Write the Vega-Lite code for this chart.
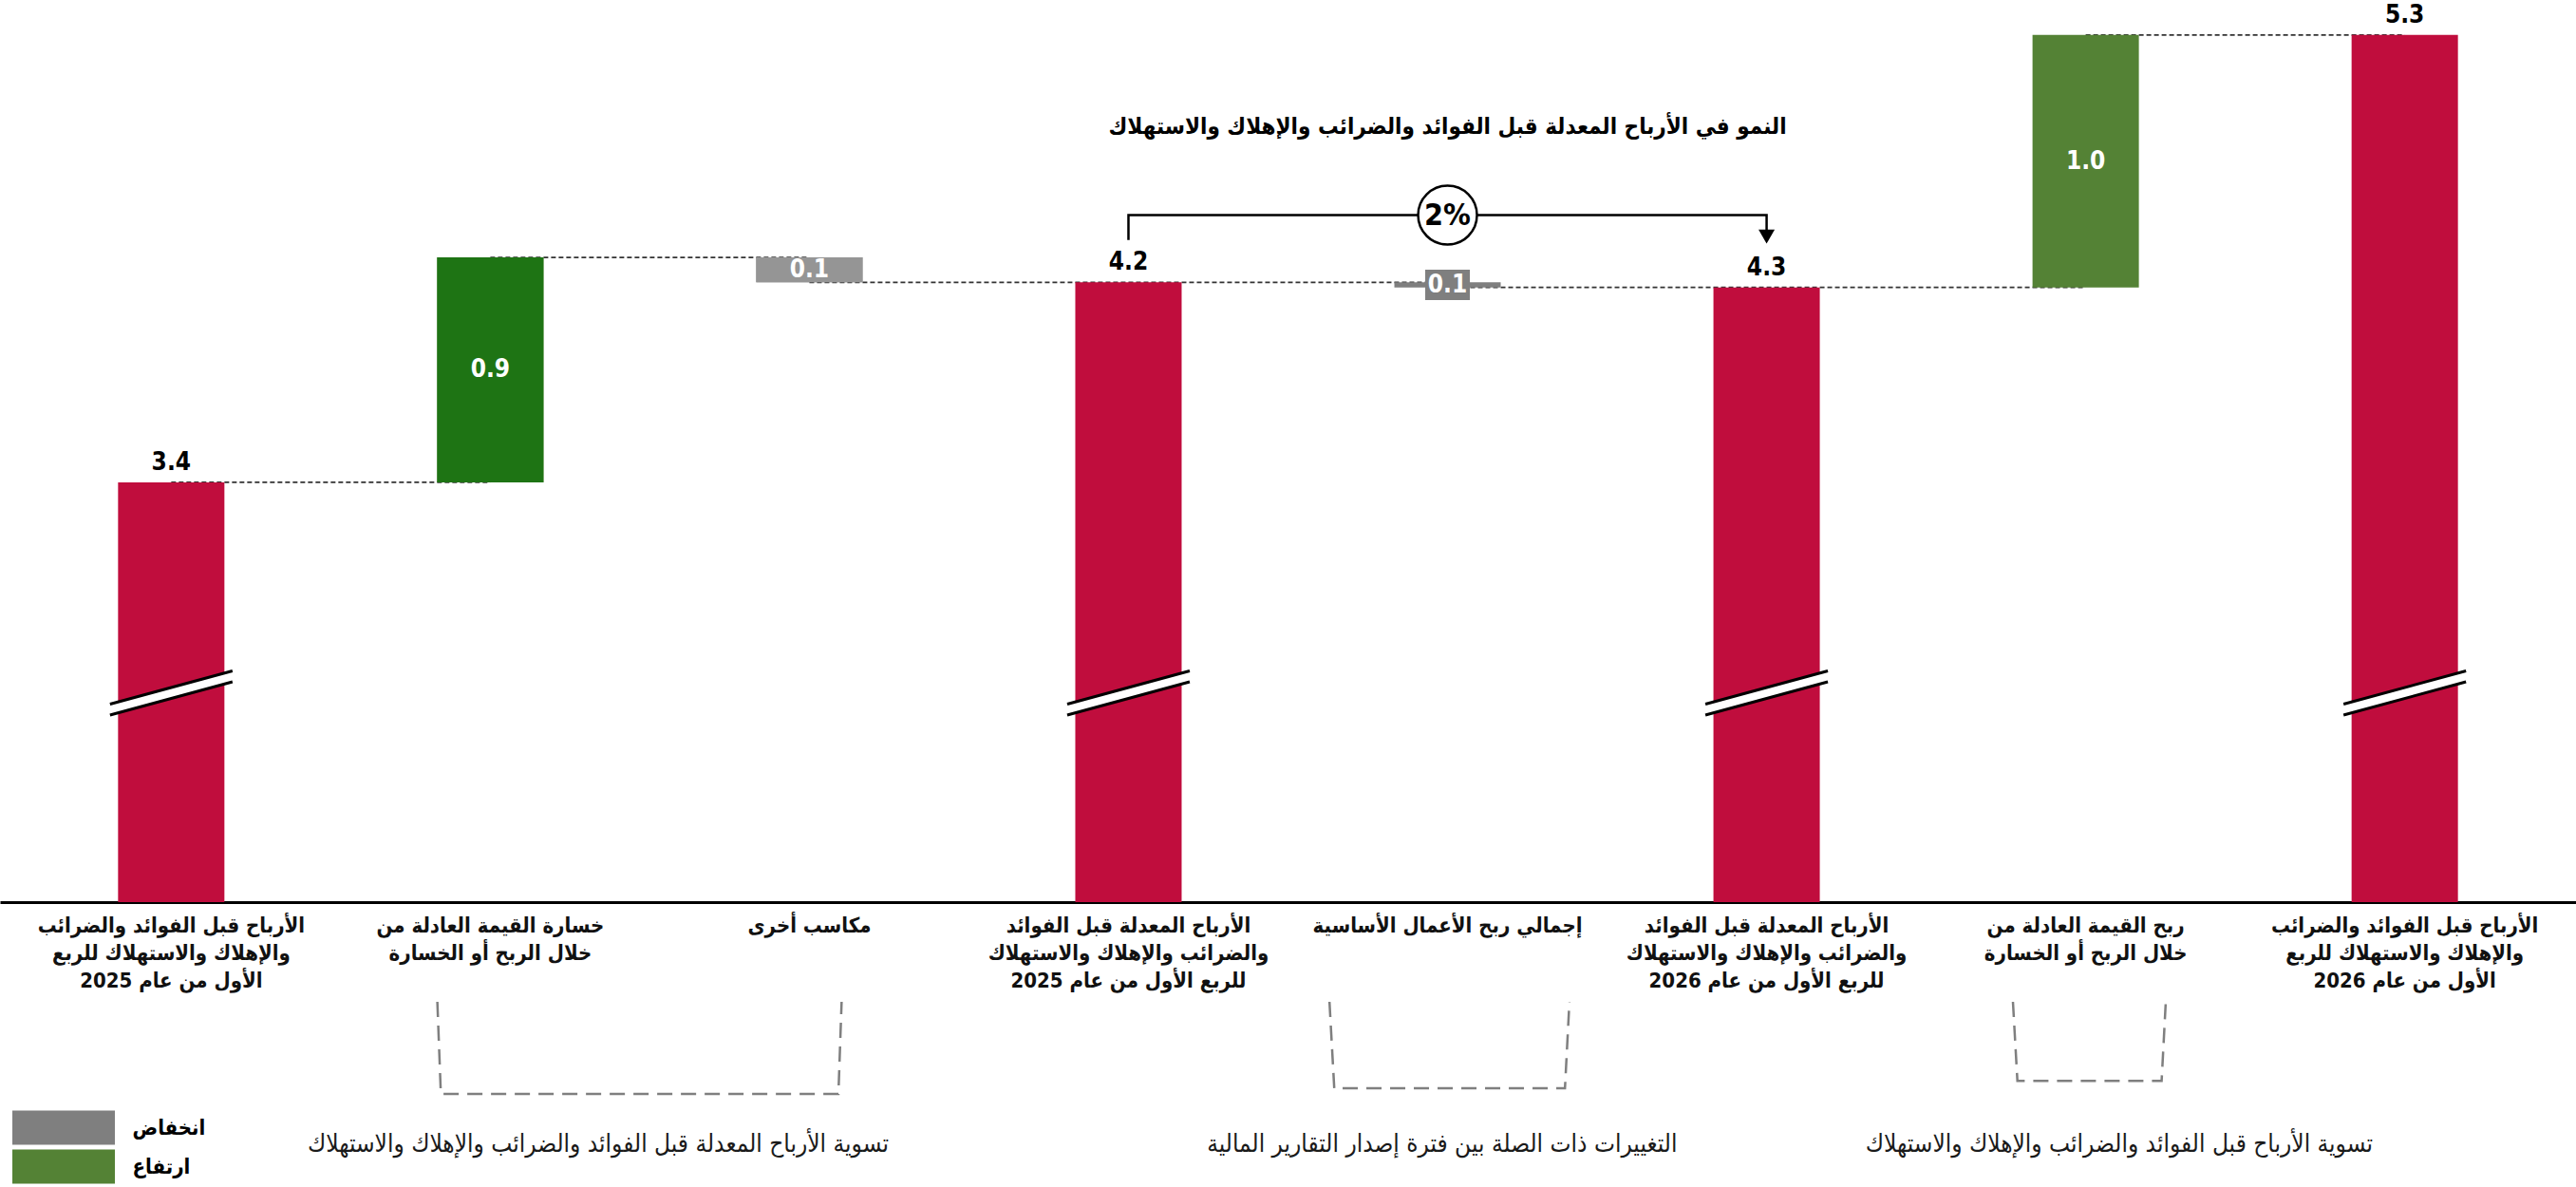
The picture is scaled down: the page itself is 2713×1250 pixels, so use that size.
{
  "$schema": "https://vega.github.io/schema/vega-lite/v6.json",
  "width": 2713,
  "height": 950,
  "padding": 0,
  "background": "#ffffff",
  "config": {"view": {"stroke": null}},
  "datasets": {
    "bars": [
      {"step": 1, "cat": "الأرباح قبل الفوائد والضرائب|والإهلاك والاستهلاك  للربع|الأول من عام 2025", "type": "الإجمالي", "start": 0, "end": 3.40, "label": "3.4", "next": "خسارة القيمة العادلة من|خلال الربح أو الخسارة"},
      {"step": 2, "cat": "خسارة القيمة العادلة من|خلال الربح أو الخسارة", "type": "ارتفاع", "start": 3.40, "end": 4.30, "label": "0.9", "next": "مكاسب أخرى"},
      {"step": 3, "cat": "مكاسب أخرى", "type": "انخفاض", "start": 4.30, "end": 4.20, "label": "0.1", "next": "الأرباح المعدلة قبل الفوائد|والضرائب والإهلاك والاستهلاك|للربع الأول من عام 2025"},
      {"step": 4, "cat": "الأرباح المعدلة قبل الفوائد|والضرائب والإهلاك والاستهلاك|للربع الأول من عام 2025", "type": "الإجمالي", "start": 0, "end": 4.20, "label": "4.2", "next": "إجمالي ربح الأعمال الأساسية"},
      {"step": 5, "cat": "إجمالي ربح الأعمال الأساسية", "type": "انخفاض", "start": 4.20, "end": 4.18, "label": "0.1", "next": "الأرباح المعدلة قبل الفوائد|والضرائب والإهلاك والاستهلاك|للربع الأول من عام 2026"},
      {"step": 6, "cat": "الأرباح المعدلة قبل الفوائد|والضرائب والإهلاك والاستهلاك|للربع الأول من عام 2026", "type": "الإجمالي", "start": 0, "end": 4.18, "label": "4.3", "next": "ربح القيمة العادلة من|خلال الربح أو الخسارة"},
      {"step": 7, "cat": "ربح القيمة العادلة من|خلال الربح أو الخسارة", "type": "ارتفاع", "start": 4.18, "end": 5.19, "label": "1.0", "next": "الأرباح قبل الفوائد والضرائب|والإهلاك والاستهلاك  للربع|الأول من عام 2026"},
      {"step": 8, "cat": "الأرباح قبل الفوائد والضرائب|والإهلاك والاستهلاك  للربع|الأول من عام 2026", "type": "الإجمالي", "start": 0, "end": 5.19, "label": "5.3", "next": null}
    ],
    "link": [
      {"cat": "الأرباح المعدلة قبل الفوائد|والضرائب والإهلاك والاستهلاك|للربع الأول من عام 2025", "v": 4.37, "o": 1},
      {"cat": "الأرباح المعدلة قبل الفوائد|والضرائب والإهلاك والاستهلاك|للربع الأول من عام 2025", "v": 4.469, "o": 2},
      {"cat": "الأرباح المعدلة قبل الفوائد|والضرائب والإهلاك والاستهلاك|للربع الأول من عام 2026", "v": 4.469, "o": 3},
      {"cat": "الأرباح المعدلة قبل الفوائد|والضرائب والإهلاك والاستهلاك|للربع الأول من عام 2026", "v": 4.405, "o": 4}
    ],
    "brackets": [
      {"g": 1, "o": 1, "u": 0.834, "v": 1.321},
      {"g": 1, "o": 2, "u": 0.845, "v": 0.952},
      {"g": 1, "o": 3, "u": 2.091, "v": 0.952},
      {"g": 1, "o": 4, "u": 2.101, "v": 1.321},
      {"g": 2, "o": 1, "u": 3.630, "v": 1.321},
      {"g": 2, "o": 2, "u": 3.645, "v": 0.975},
      {"g": 2, "o": 3, "u": 4.368, "v": 0.975},
      {"g": 2, "o": 4, "u": 4.382, "v": 1.321},
      {"g": 3, "o": 1, "u": 5.772, "v": 1.321},
      {"g": 3, "o": 2, "u": 5.786, "v": 1.005},
      {"g": 3, "o": 3, "u": 6.238, "v": 1.005},
      {"g": 3, "o": 4, "u": 6.251, "v": 1.321}
    ],
    "groups": [
      {"u": 1.338, "v": 0.75, "text": "تسوية الأرباح المعدلة قبل الفوائد والضرائب والإهلاك والاستهلاك"},
      {"u": 3.983, "v": 0.75, "text": "التغييرات ذات الصلة بين فترة إصدار التقارير المالية"},
      {"u": 6.105, "v": 0.75, "text": "تسوية الأرباح قبل الفوائد والضرائب والإهلاك والاستهلاك"}
    ]
  },
  "layer": [
    {
      "encoding": {
        "x": {
          "field": "cat", "type": "nominal", "sort": null,
          "scale": {
            "domain": [
              "الأرباح قبل الفوائد والضرائب|والإهلاك والاستهلاك  للربع|الأول من عام 2025",
              "خسارة القيمة العادلة من|خلال الربح أو الخسارة",
              "مكاسب أخرى",
              "الأرباح المعدلة قبل الفوائد|والضرائب والإهلاك والاستهلاك|للربع الأول من عام 2025",
              "إجمالي ربح الأعمال الأساسية",
              "الأرباح المعدلة قبل الفوائد|والضرائب والإهلاك والاستهلاك|للربع الأول من عام 2026",
              "ربح القيمة العادلة من|خلال الربح أو الخسارة",
              "الأرباح قبل الفوائد والضرائب|والإهلاك والاستهلاك  للربع|الأول من عام 2026"
            ],
            "paddingInner": 0.6667, "paddingOuter": 0.37
          },
          "axis": {
            "title": null, "labelExpr": "split(datum.label, '|')", "labelAngle": 0,
            "ticks": false, "domainColor": "#000000", "domainWidth": 3,
            "labelFont": "DejaVu Sans Condensed", "labelFontSize": 22, "labelFontWeight": "bold",
            "labelColor": "#111111", "labelLineHeight": 29, "labelPadding": 14,
            "labelLimit": 1000, "labelOverlap": false, "labelBound": false, "grid": false
          }
        }
      },
      "layer": [
        {
          "data": {"name": "bars"},
          "transform": [{"filter": "datum.next != null"}],
          "mark": {"type": "rule", "color": "#333333", "strokeWidth": 1.8, "strokeDash": [5, 3]},
          "encoding": {
            "x2": {"field": "next"},
            "y": {"field": "end", "type": "quantitative", "scale": {"domain": [1.72, 5.33], "nice": false, "zero": false, "clamp": true}, "axis": null}
          }
        },
        {
          "data": {"name": "bars"},
          "mark": {"type": "bar"},
          "encoding": {
            "y": {"field": "end", "type": "quantitative", "scale": {"domain": [1.72, 5.33], "nice": false, "zero": false, "clamp": true}, "axis": null},
            "y2": {"field": "start"},
            "color": {
              "field": "type", "type": "nominal",
              "scale": {"domain": ["انخفاض", "ارتفاع", "الإجمالي"], "range": ["#7f7f7f", "#548235", "#c00d3d"]},
              "legend": {
                "title": null, "orient": "none", "legendX": 44.5, "legendY": 1165,
                "values": ["انخفاض", "ارتفاع"],
                "symbolType": "M-2.4,-0.8H2.4V0.8H-2.4Z", "symbolSize": 2025, "symbolStrokeWidth": 0,
                "labelFont": "DejaVu Sans Condensed", "labelFontSize": 22, "labelFontWeight": "bold",
                "labelColor": "#000000", "labelOffset": 50, "rowPadding": 0, "padding": 0
              }
            }
          }
        },
        {
          "data": {"name": "bars"},
          "transform": [{"filter": "datum.step == 2"}],
          "mark": {"type": "bar", "color": "#1e7414"},
          "encoding": {
            "y": {"field": "end", "type": "quantitative", "scale": {"domain": [1.72, 5.33], "nice": false, "zero": false, "clamp": true}},
            "y2": {"field": "start"}
          }
        },
        {
          "data": {"name": "bars"},
          "transform": [{"filter": "datum.step == 3"}],
          "mark": {"type": "bar", "color": "#959595"},
          "encoding": {
            "y": {"field": "end", "type": "quantitative", "scale": {"domain": [1.72, 5.33], "nice": false, "zero": false, "clamp": true}},
            "y2": {"field": "start"}
          }
        },
        {
          "data": {"name": "bars"},
          "transform": [{"filter": "datum.start == 0"}],
          "mark": {"type": "point", "shape": "M-1,0.182L1,-0.36L1,-0.182L-1,0.36Z", "size": 16641, "filled": true, "fill": "#ffffff", "strokeWidth": 0, "opacity": 1},
          "encoding": {
            "y": {"datum": 2.557, "type": "quantitative", "scale": {"domain": [1.72, 5.33], "nice": false, "zero": false, "clamp": true}}
          }
        },
        {
          "data": {"name": "bars"},
          "transform": [{"filter": "datum.start == 0"}],
          "mark": {"type": "point", "shape": "M-1,0.182L1,-0.36M-1,0.36L1,-0.182", "size": 16641, "filled": false, "stroke": "#000000", "strokeWidth": 3, "opacity": 1},
          "encoding": {
            "y": {"datum": 2.557, "type": "quantitative", "scale": {"domain": [1.72, 5.33], "nice": false, "zero": false, "clamp": true}}
          }
        },
        {
          "data": {"name": "bars"},
          "transform": [{"filter": "datum.start == 0"}],
          "mark": {"type": "text", "baseline": "alphabetic", "align": "center", "dy": -13, "font": "Liberation Sans Narrow, DejaVu Sans Condensed, sans-serif", "fontSize": 26, "fontWeight": "bold", "color": "#000000"},
          "encoding": {
            "y": {"field": "end", "type": "quantitative", "scale": {"domain": [1.72, 5.33], "nice": false, "zero": false, "clamp": true}},
            "text": {"field": "label"}
          }
        },
        {
          "data": {"name": "bars"},
          "transform": [{"filter": "datum.step == 5"}, {"fold": ["start", "end"], "as": ["k", "val"]}],
          "mark": {"type": "point", "shape": "M-1.47,-1H1.47V1H-1.47Z", "size": 1024, "filled": true, "fill": "#7f7f7f", "strokeWidth": 0, "opacity": 1},
          "encoding": {
            "y": {"aggregate": "mean", "field": "val", "type": "quantitative", "scale": {"domain": [1.72, 5.33], "nice": false, "zero": false, "clamp": true}}
          }
        },
        {
          "data": {"name": "bars"},
          "transform": [{"filter": "datum.start > 0"}, {"fold": ["start", "end"], "as": ["k", "val"]}],
          "mark": {"type": "text", "baseline": "middle", "align": "center", "font": "Liberation Sans Narrow, DejaVu Sans Condensed, sans-serif", "fontSize": 26, "fontWeight": "bold", "color": "#ffffff"},
          "encoding": {
            "y": {"aggregate": "mean", "field": "val", "type": "quantitative", "scale": {"domain": [1.72, 5.33], "nice": false, "zero": false, "clamp": true}},
            "text": {"field": "label"}
          }
        },
        {
          "data": {"name": "link"},
          "mark": {"type": "line", "color": "#000000", "strokeWidth": 2.5},
          "encoding": {
            "y": {"field": "v", "type": "quantitative", "scale": {"domain": [1.72, 5.33], "nice": false, "zero": false, "clamp": true}},
            "order": {"field": "o"}
          }
        },
        {
          "data": {"values": [{}]},
          "mark": {"type": "point", "shape": "triangle-down", "size": 289, "filled": true, "color": "#000000", "opacity": 1},
          "encoding": {
            "x": {"datum": "الأرباح المعدلة قبل الفوائد|والضرائب والإهلاك والاستهلاك|للربع الأول من عام 2026", "type": "nominal"},
            "y": {"datum": 4.383, "type": "quantitative", "scale": {"domain": [1.72, 5.33], "nice": false, "zero": false, "clamp": true}}
          }
        },
        {
          "data": {"values": [{}]},
          "mark": {"type": "point", "shape": "circle", "size": 3844, "fill": "#ffffff", "stroke": "#000000", "strokeWidth": 2.5, "opacity": 1},
          "encoding": {
            "x": {"datum": "إجمالي ربح الأعمال الأساسية", "type": "nominal"},
            "y": {"datum": 4.469, "type": "quantitative", "scale": {"domain": [1.72, 5.33], "nice": false, "zero": false, "clamp": true}}
          }
        },
        {
          "data": {"values": [{"t": "2%"}]},
          "mark": {"type": "text", "baseline": "middle", "align": "center", "font": "Liberation Sans Narrow, DejaVu Sans Condensed, sans-serif", "fontSize": 32, "fontWeight": "bold", "color": "#000000"},
          "encoding": {
            "x": {"datum": "إجمالي ربح الأعمال الأساسية", "type": "nominal"},
            "y": {"datum": 4.469, "type": "quantitative", "scale": {"domain": [1.72, 5.33], "nice": false, "zero": false, "clamp": true}},
            "text": {"field": "t"}
          }
        },
        {
          "data": {"values": [{"t": "النمو في الأرباح المعدلة قبل الفوائد والضرائب والإهلاك والاستهلاك"}]},
          "mark": {"type": "text", "baseline": "middle", "align": "center", "font": "DejaVu Sans Condensed", "fontSize": 24, "fontWeight": "bold", "color": "#000000"},
          "encoding": {
            "x": {"datum": "إجمالي ربح الأعمال الأساسية", "type": "nominal"},
            "y": {"datum": 4.819, "type": "quantitative", "scale": {"domain": [1.72, 5.33], "nice": false, "zero": false, "clamp": true}},
            "text": {"field": "t"}
          }
        }
      ]
    },
    {
      "layer": [
        {
          "data": {"name": "brackets"},
          "mark": {"type": "line", "color": "#7f7f7f", "strokeWidth": 2.5, "strokeDash": [16, 9]},
          "encoding": {
            "x": {"field": "u", "type": "quantitative", "scale": {"domain": [-0.53667, 7.53667], "nice": false, "zero": false}, "axis": null},
            "y": {"field": "v", "type": "quantitative", "scale": {"domain": [1.72, 5.33], "nice": false, "zero": false}, "axis": null},
            "detail": {"field": "g"},
            "order": {"field": "o"}
          }
        },
        {
          "data": {"name": "groups"},
          "mark": {"type": "text", "baseline": "middle", "align": "center", "font": "DejaVu Sans Condensed", "fontSize": 26, "color": "#1a1a1a"},
          "encoding": {
            "x": {"field": "u", "type": "quantitative", "scale": {"domain": [-0.53667, 7.53667], "nice": false, "zero": false}, "axis": null},
            "y": {"field": "v", "type": "quantitative", "scale": {"domain": [1.72, 5.33], "nice": false, "zero": false}, "axis": null},
            "text": {"field": "text"}
          }
        }
      ]
    }
  ],
  "resolve": {"scale": {"x": "independent", "y": "independent"}}
}
